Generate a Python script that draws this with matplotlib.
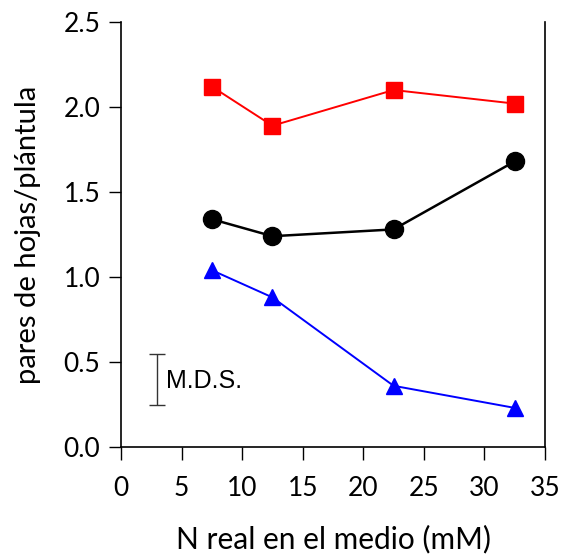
import matplotlib
matplotlib.use("Agg")
import matplotlib.pyplot as plt

x = [7.5, 12.5, 22.5, 32.5]
red_vals = [2.12, 1.89, 2.10, 2.02]
black_vals = [1.34, 1.24, 1.28, 1.68]
blue_vals = [1.04, 0.88, 0.36, 0.23]
mds_x = 3.0
mds_low, mds_high = 0.25, 0.55
xticks = [0, 5, 10, 15, 20, 25, 30, 35]
yticks = [0.0, 0.5, 1.0, 1.5, 2.0, 2.5]

plt.rcParams['font.family'] = ['Lato', 'DejaVu Sans']

fig = plt.figure(figsize=(5.62, 5.54), dpi=100)
ax = fig.add_axes([121/562, 1-447/554, (545-121)/562, (447-22)/554])

ax.plot(x, red_vals, color='red', lw=1.4, marker='s', ms=11.5, mec='red', mfc='red', zorder=3)
ax.plot(x, black_vals, color='black', lw=1.8, marker='o', ms=13, mec='black', mfc='black', zorder=3)
ax.plot(x, blue_vals, color='blue', lw=1.4, marker='^', ms=12, mec='blue', mfc='blue', zorder=3)

ax.errorbar([mds_x], [(mds_low + mds_high) / 2], yerr=[[(mds_high - mds_low) / 2]],
            fmt='none', ecolor='#333333', elinewidth=1, capsize=6, capthick=1)
ax.text(mds_x + 0.75, (mds_low + mds_high) / 2 - 0.01, 'M.D.S.', family=['Liberation Sans', 'DejaVu Sans'],
        fontsize=18, va='center', ha='left')

ax.set_xlim(0, 35)
ax.set_ylim(0, 2.5)
ax.set_xticks(xticks)
ax.set_xticklabels([str(t) for t in xticks])
ax.set_yticks(yticks)
ax.set_yticklabels([f"{t:.1f}" for t in yticks])
ax.spines['top'].set_visible(False)
for s in ['left', 'right', 'bottom']:
    ax.spines[s].set_linewidth(1.2)
ax.tick_params(direction='out', length=9, width=1, labelsize=19, pad=6)
ax.tick_params(axis='x', pad=12)
ax.set_xlabel('N real en el medio (mM)', fontsize=21.5, labelpad=17)
ax.set_ylabel('pares de hojas/plántula', fontsize=21, labelpad=16)

fig.savefig('out.png', dpi=100)
